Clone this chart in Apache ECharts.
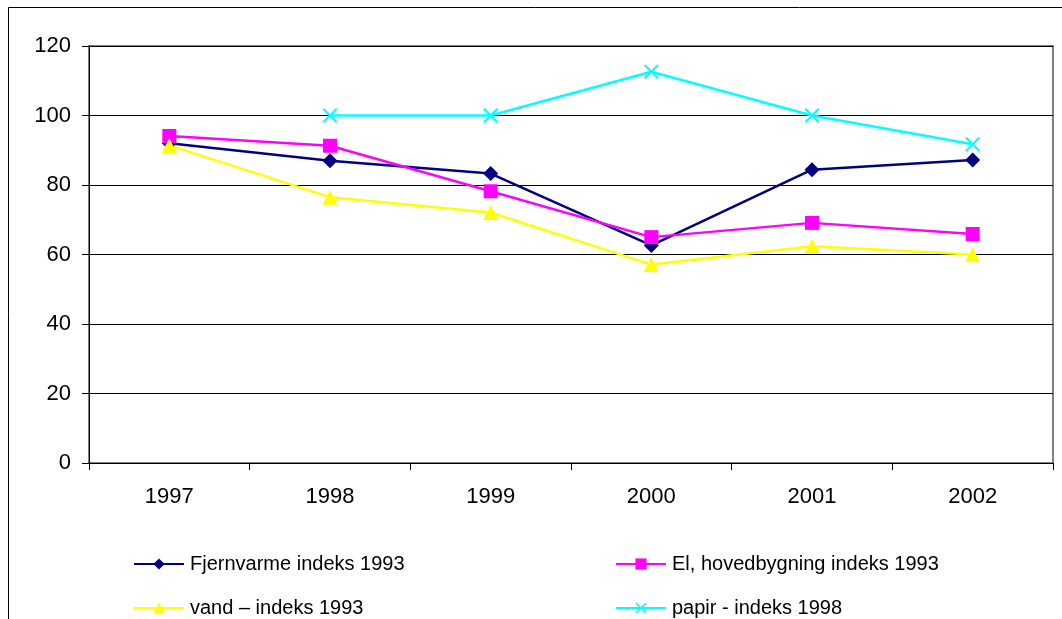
<!DOCTYPE html>
<html>
<head>
<meta charset="utf-8">
<title>Indeks</title>
<style>
  html, body { margin: 0; padding: 0; background: #fff; }
  #chart { width: 1062px; height: 619px; }
</style>
</head>
<body>
<div id="chart"></div>
<script src="https://cdn.jsdelivr.net/npm/echarts@6/dist/echarts.min.js"></script>
<script>
// data
var years = ['1997', '1998', '1999', '2000', '2001', '2002'];
var fjernvarme = [92, 87, 83.3, 62.6, 84.4, 87.2];
var elHoved = [94.1, 91.3, 78.2, 65, 69.1, 65.9];
var vand = [91.4, 76.5, 72.1, 57.1, 62.4, 60];
var papir = [null, 100, 100, 112.6, 100, 91.7];
var yTicks = [0, 20, 40, 60, 80, 100, 120];

var names = ['Fjernvarme indeks 1993', 'El, hovedbygning indeks 1993', 'vand \u2013 indeks 1993', 'papir - indeks 1998'];
var crossPath = 'path://M0,1L1,0L5,4L9,0L10,1L6,5L10,9L9,10L5,6L1,10L0,9L4,5Z';
var font = '"Liberation Sans", Arial, sans-serif';

var chart = echarts.init(document.getElementById('chart'));

function lineSeries(name, data, color, symbol, size) {
  return {
    name: name,
    type: 'line',
    data: data,
    symbol: symbol,
    symbolSize: size,
    showAllSymbol: true,
    connectNulls: false,
    lineStyle: { color: color, width: 2.5 },
    itemStyle: { color: color },
    emphasis: { disabled: true },
    animation: false
  };
}

var legendText = { fontFamily: font, fontSize: 20, color: '#000', padding: [0, 0, 0, 1] };

chart.setOption({
  backgroundColor: '#fff',
  textStyle: { fontFamily: font },
  grid: {
    left: 89, right: 9, top: 46, bottom: 156,
    show: true, borderColor: '#808080', borderWidth: 2, backgroundColor: 'transparent'
  },
  graphic: [{
    type: 'rect',
    shape: { x: 8.5, y: 7.5, width: 1100, height: 700 },
    style: { fill: null, stroke: '#000', lineWidth: 1 },
    silent: true
  }],
  legend: [{
    data: [names[0], names[2]],
    orient: 'vertical',
    left: 133, top: 554, padding: 0,
    itemWidth: 50, itemHeight: 14, itemGap: 24,
    textStyle: legendText
  }, {
    data: [names[1], names[3]],
    orient: 'vertical',
    left: 615, top: 554, padding: 0,
    itemWidth: 50, itemHeight: 14, itemGap: 24,
    textStyle: legendText
  }],
  xAxis: {
    type: 'category',
    data: years,
    boundaryGap: true,
    axisLine: { lineStyle: { color: '#000', width: 1 } },
    axisTick: { show: true, length: 7, lineStyle: { color: '#000' } },
    axisLabel: { fontFamily: font, fontSize: 22, color: '#000', margin: 23 },
    splitLine: { show: false }
  },
  yAxis: {
    type: 'value',
    min: yTicks[0],
    max: yTicks[yTicks.length - 1],
    interval: yTicks[1] - yTicks[0],
    axisLine: { show: true, lineStyle: { color: '#000', width: 1 } },
    axisTick: { show: true, length: 7, lineStyle: { color: '#000' } },
    axisLabel: { fontFamily: font, fontSize: 22, color: '#000', margin: 18 },
    splitLine: { show: true, lineStyle: { color: '#000', width: 1 } }
  },
  series: [
    lineSeries(names[0], fjernvarme, '#000080', 'diamond', 15),
    lineSeries(names[1], elHoved, '#FF00FF', 'rect', 14),
    lineSeries(names[2], vand, '#FFFF00', 'triangle', 15),
    lineSeries(names[3], papir, '#00FFFF', crossPath, 15)
  ]
});
</script>
</body>
</html>
